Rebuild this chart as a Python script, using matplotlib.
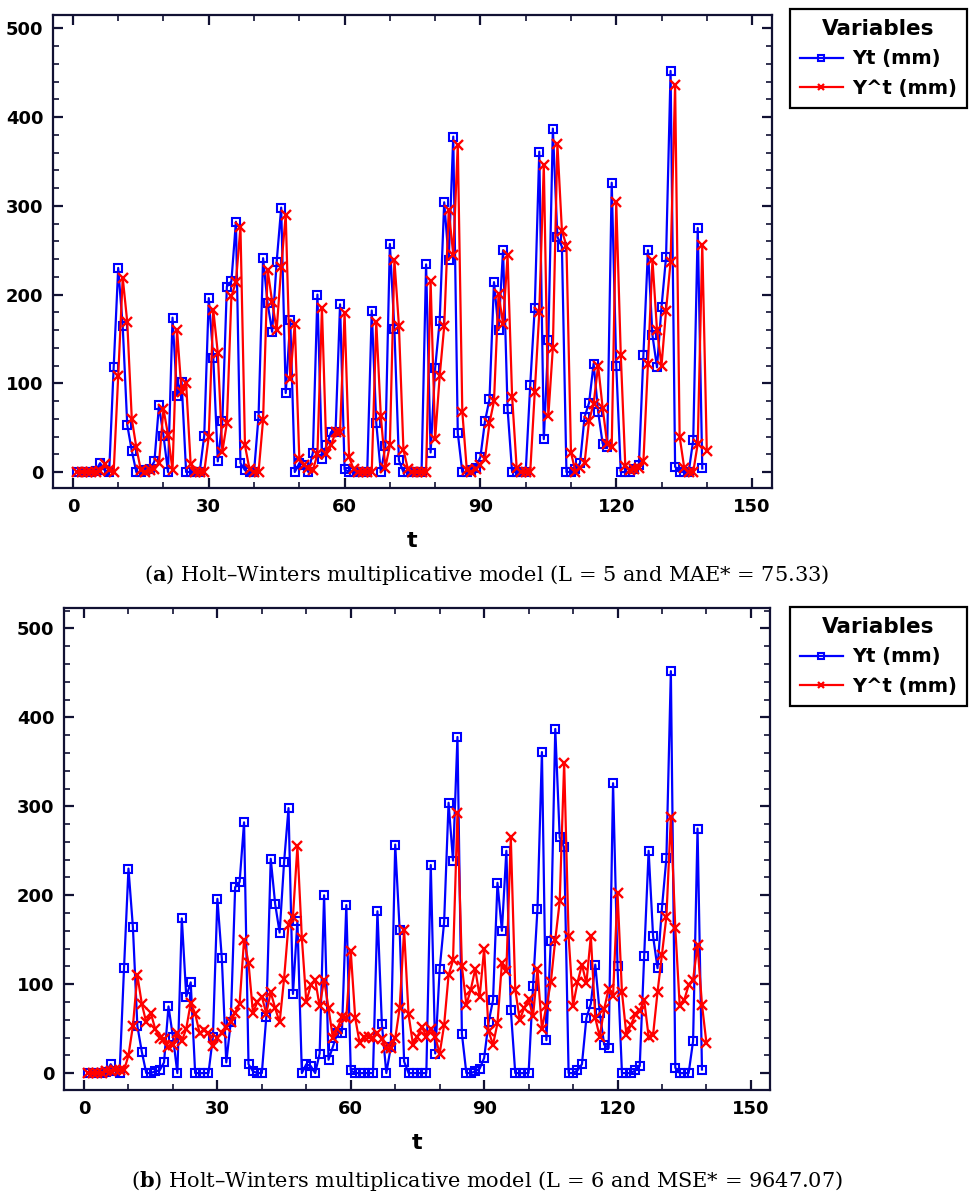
import numpy as np
import matplotlib
matplotlib.use("Agg")
import matplotlib.pyplot as plt
from matplotlib.lines import Line2D
from matplotlib.ticker import MultipleLocator

plt.rcParams["mathtext.fontset"] = "dejavuserif"

# observed series Yt (mm), t = 1..139
yt = [0, 0, 0, 0, 1, 10, 2, 0, 118, 230,
      164, 53, 24, 0, 0, 2, 3, 12, 75, 41,
      0, 174, 86, 102, 0, 0, 0, 0, 41, 196,
      129, 12, 57, 209, 215, 282, 10, 2, 0, 0,
      63, 241, 190, 158, 237, 298, 89, 171, 0, 10,
      8, 0, 22, 200, 15, 30, 45, 45, 189, 3,
      0, 0, 0, 0, 0, 182, 55, 0, 29, 257,
      161, 13, 0, 0, 0, 0, 0, 234, 22, 117,
      170, 304, 239, 378, 44, 0, 0, 2, 5, 17,
      57, 82, 214, 160, 250, 71, 0, 0, 0, 0,
      98, 185, 361, 37, 149, 387, 265, 254, 0, 0,
      3, 10, 62, 78, 122, 68, 32, 28, 326, 120,
      0, 0, 0, 3, 8, 132, 250, 154, 118, 186,
      242, 452, 6, 0, 0, 0, 36, 275, 4]

# fitted Y^t (mm), t = 1..140, L = 5
yhat_a = [0, 0, 0, 0, 0, 1, 9, 2, 0, 108,
          219, 169, 60, 28, 2, 0, 2, 3, 10, 71,
          42, 2, 160, 90, 100, 9, 0, 0, 0, 40,
          183, 134, 23, 55, 198, 214, 276, 30, 3, 0,
          0, 59, 228, 192, 160, 231, 290, 105, 167, 15,
          8, 5, 2, 20, 185, 20, 30, 45, 45, 179,
          17, 3, 0, 0, 0, 0, 169, 63, 5, 30,
          239, 165, 25, 3, 0, 0, 0, 0, 215, 37,
          108, 164, 295, 245, 369, 68, 2, 0, 3, 8,
          15, 55, 80, 201, 167, 244, 85, 5, 0, 0,
          0, 90, 180, 346, 63, 140, 370, 272, 255, 22,
          0, 5, 10, 58, 77, 120, 72, 32, 28, 304,
          132, 7, 2, 3, 5, 12, 122, 239, 160, 120,
          182, 237, 436, 40, 5, 0, 0, 32, 256, 24]

# fitted Y^t (mm), t = 1..140, L = 6
yhat_b = [0, 0, 0, 0, 2, 2, 4, 3, 3, 20,
          53, 110, 78, 57, 68, 50, 40, 38, 29, 32,
          45, 36, 50, 79, 67, 45, 48, 45, 31, 40,
          45, 52, 58, 68, 78, 150, 124, 68, 80, 86,
          67, 91, 73, 57, 106, 167, 176, 255, 152, 80,
          99, 105, 75, 105, 73, 39, 50, 63, 62, 137,
          62, 34, 41, 41, 39, 45, 38, 28, 28, 39,
          73, 161, 66, 32, 41, 52, 41, 50, 41, 22,
          54, 110, 127, 292, 120, 77, 94, 117, 86, 140,
          47, 32, 56, 124, 115, 265, 94, 60, 73, 83,
          64, 117, 50, 75, 102, 150, 193, 349, 154, 76,
          102, 122, 101, 154, 62, 41, 72, 95, 87, 203,
          91, 43, 54, 66, 70, 82, 41, 43, 91, 133,
          176, 288, 163, 75, 82, 99, 105, 144, 77, 34]

t_obs = np.arange(1, len(yt) + 1)
t_fit = np.arange(1, len(yhat_a) + 1)

x_ticks = [0, 30, 60, 90, 120, 150]
y_ticks = [0, 100, 200, 300, 400, 500]
labels = ["Yt (mm)", "Y^t (mm)"]
cap_a = r"($\mathbf{a}$) Holt–Winters multiplicative model (L = 5 and MAE* = 75.33)"
cap_b = r"($\mathbf{b}$) Holt–Winters multiplicative model (L = 6 and MSE* = 9647.07)"

W, H = 974, 1200
fig = plt.figure(figsize=(W / 100, H / 100), dpi=100)


def panel(box, fit, caption, ylim, xlim, leg_top, cap_y):
    l, t, r, b = box
    ax = fig.add_axes([l / W, 1 - b / H, (r - l) / W, (b - t) / H])
    ax.plot(t_obs, yt, color="#0000ff", lw=1.6, marker="s", ms=5.5,
            mfc="none", mec="#0000ff", mew=1.5, zorder=3)
    ax.plot(t_fit, fit, color="#ff0000", lw=1.6, marker="x", ms=7,
            mew=1.7, zorder=4)
    ax.set_xlim(*xlim)
    ax.set_ylim(*ylim)
    ax.set_xticks(x_ticks)
    ax.set_yticks(y_ticks)
    ax.xaxis.set_minor_locator(MultipleLocator(10))
    ax.yaxis.set_minor_locator(MultipleLocator(20))
    ax.tick_params(which="both", direction="in", top=True, right=True,
                   colors="#111133")
    ax.tick_params(which="major", length=7, width=1.6, labelsize=13, pad=7)
    ax.tick_params(which="minor", length=4, width=1.2)
    for lab in ax.get_xticklabels() + ax.get_yticklabels():
        lab.set_fontweight("bold")
        lab.set_color("black")
    for s in ax.spines.values():
        s.set_linewidth(1.6)
        s.set_color("#111133")
    ax.set_xlabel("t", fontsize=16, fontweight="bold", labelpad=11)

    handles = [Line2D([], [], color="#0000ff", lw=1.6, marker="s", ms=4,
                      mfc="none", mew=1.5),
               Line2D([], [], color="#ff0000", lw=1.6, marker="x", ms=5,
                      mew=1.6)]
    leg = fig.legend(handles, labels, title="Variables", loc="upper left",
                     bbox_to_anchor=(790 / W, 1 - leg_top / H),
                     prop={"weight": "bold", "size": 14},
                     title_fontproperties={"weight": "bold", "size": 15.5},
                     frameon=True, fancybox=False, framealpha=1,
                     edgecolor="black", handlelength=2.2, handletextpad=0.5,
                     borderpad=0.5, labelspacing=0.55, borderaxespad=0)
    leg.get_frame().set_linewidth(1.6)
    fig.text(0.5, 1 - cap_y / H, caption, ha="center", va="center",
             fontsize=15, family="DejaVu Serif")
    return ax


panel((53, 15, 772, 488), yhat_a, cap_a, (-18, 515), (-4.4, 154.4), 9, 575)
panel((64, 608, 770, 1090), yhat_b, cap_b, (-19, 523), (-4.5, 154.3), 607, 1181)

fig.savefig("out.png", dpi=100)
